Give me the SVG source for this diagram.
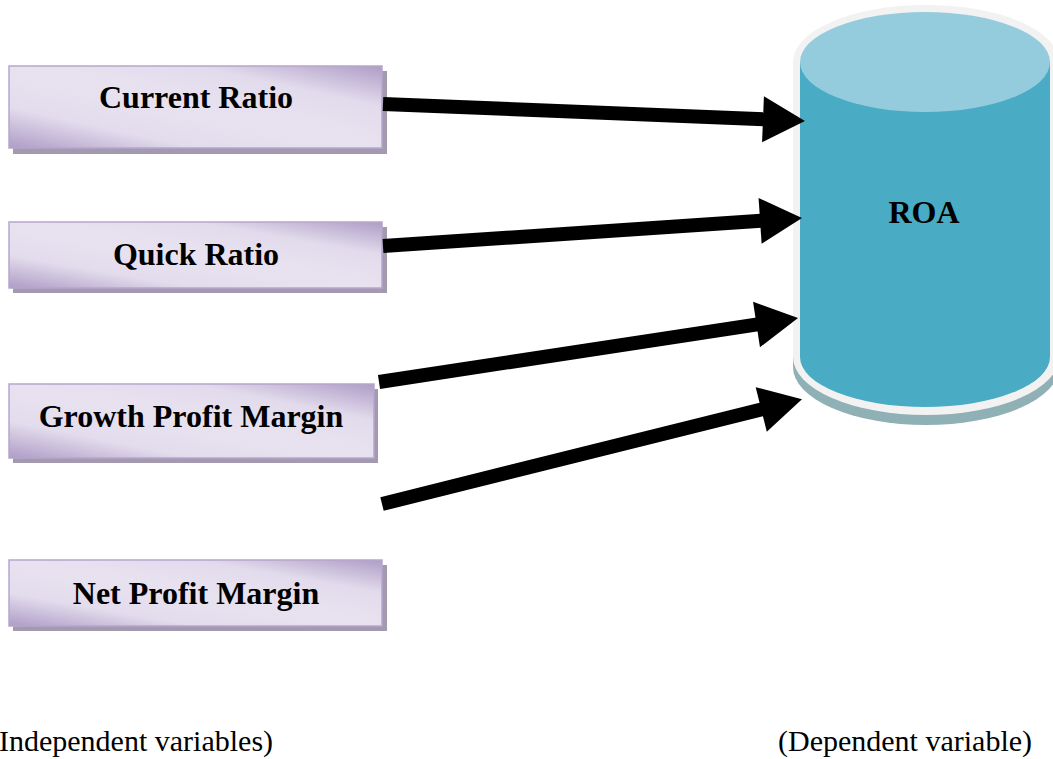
<svg xmlns="http://www.w3.org/2000/svg" width="1053" height="759" viewBox="0 0 1053 759">
<style>
.box{fill:url(#boxg);stroke:#b6a6cc;stroke-width:1.5}
.shadow{fill:#a39ab0}
.lbl{font-family:"Liberation Serif","Times New Roman",serif;font-weight:bold;font-size:32px;fill:#000;text-anchor:middle}
.cap{font-family:"Liberation Serif","Times New Roman",serif;font-size:30px;fill:#000}
.conn{stroke:#000;stroke-width:14;fill:none}
</style>
<defs>
<linearGradient id="boxg" x1="0" y1="1" x2="1" y2="0">
<stop offset="0" stop-color="#ae9cc6"/>
<stop offset="0.25" stop-color="#e3dced"/>
<stop offset="0.5" stop-color="#e8e2f0"/>
<stop offset="0.75" stop-color="#e2dbec"/>
<stop offset="1" stop-color="#ae9cc6"/>
</linearGradient>
<marker id="ah" markerUnits="userSpaceOnUse" markerWidth="44" markerHeight="46" refX="1" refY="23" orient="auto" overflow="visible">
<path d="M0,0 L42,23 L0,46 Z" fill="#000"/>
</marker>
</defs>
<rect width="1053" height="759" fill="#fff"/>
<g id="node-current">
<rect class="shadow" x="13" y="71" width="374" height="83"/>
<rect class="box" x="9" y="66" width="373" height="82"/>
<text class="lbl" x="196" y="108">Current Ratio</text>
</g>
<g id="node-quick">
<rect class="shadow" x="13" y="227" width="374" height="66"/>
<rect class="box" x="9" y="222" width="373" height="66"/>
<text class="lbl" x="196" y="265">Quick Ratio</text>
</g>
<g id="node-growth">
<rect class="shadow" x="13" y="389" width="365" height="74"/>
<rect class="box" x="9" y="384" width="365" height="74"/>
<text class="lbl" x="191" y="427">Growth Profit Margin</text>
</g>
<g id="node-net">
<rect class="shadow" x="13" y="565" width="374" height="66"/>
<rect class="box" x="9" y="560" width="373" height="66"/>
<text class="lbl" x="196" y="604">Net Profit Margin</text>
</g>
<g id="node-roa">
<path d="M793,62 L793,362 A133,58 0 0 0 1059,362 L1059,62 Z" fill="#8fb0b5" transform="translate(0,5)"/>
<path d="M793,62 A133,57 0 0 1 1059,62 L1059,357 A133,58 0 0 1 793,357 Z" fill="#f2f2f2"/>
<path d="M800,62 L800,357 A125,50 0 0 0 1050,357 L1050,62 Z" fill="#4aabc5"/>
<ellipse cx="925" cy="62" rx="125" ry="50" fill="#94ccdd"/>
<text class="lbl" x="924" y="223">ROA</text>
</g>
<g id="connectors">
<line class="conn" x1="383" y1="104" x2="764" y2="119.3" marker-end="url(#ah)"/>
<line class="conn" x1="383" y1="246" x2="761.1" y2="220.8" marker-end="url(#ah)"/>
<line class="conn" x1="379" y1="382" x2="757.5" y2="324.3" marker-end="url(#ah)"/>
<line class="conn" x1="382" y1="504" x2="762.2" y2="409.2" marker-end="url(#ah)"/>
</g>
<text class="cap" x="-1" y="751">Independent variables)</text>
<text class="cap" x="778" y="751">(Dependent variable)</text>
</svg>
